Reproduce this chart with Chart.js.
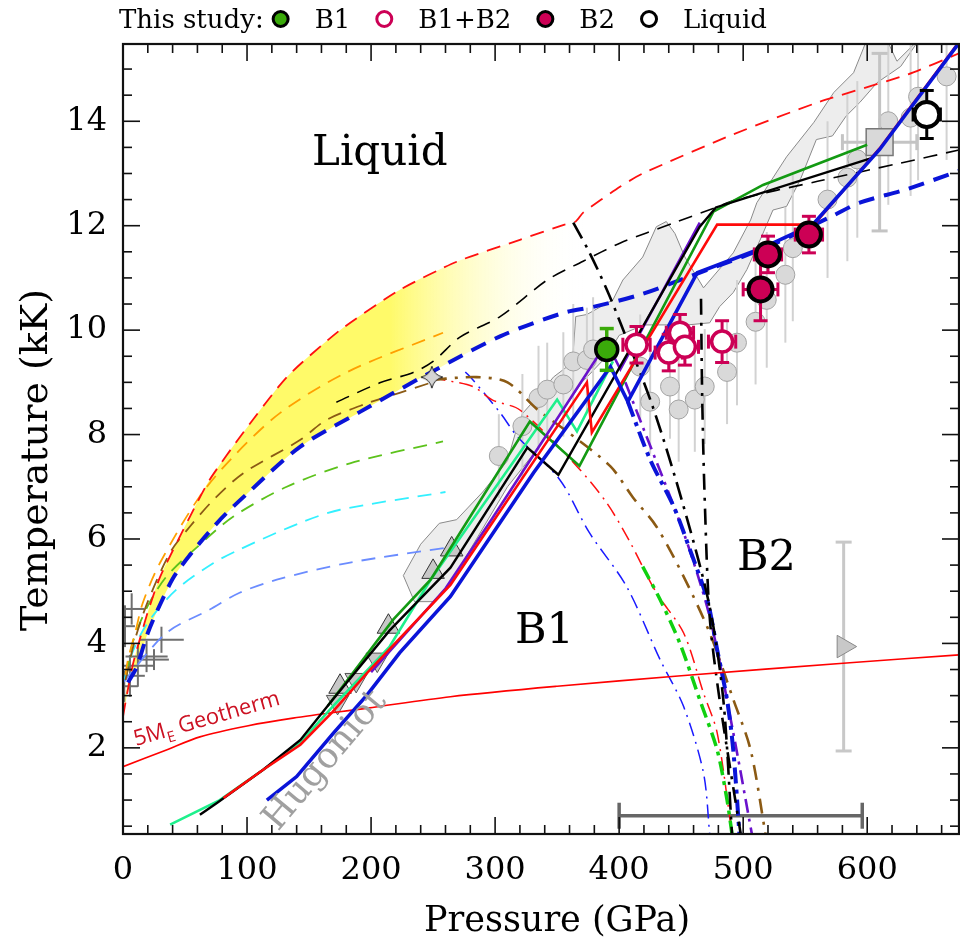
<!DOCTYPE html>
<html>
<head>
<meta charset="utf-8">
<script src="https://cdn.jsdelivr.net/npm/chart.js@4.4.1/dist/chart.umd.min.js"></script>
<style>
  html, body { margin: 0; padding: 0; background: #fff; overflow: hidden; }
  #wrap { position: relative; width: 960px; height: 947px; }
  #chart { display: block; }
</style>
</head>
<body>
<div id="wrap"><canvas id="chart"></canvas></div>
<script>
// ---- melting curves (P in GPa, T in kK) ----
const redDashP = [0, 3, 8, 12, 20, 30, 54, 70, 97, 132, 175, 223, 269, 320, 356, 365, 371, 401, 419, 492, 560, 633, 674];
const redDashT = [2.6, 3.0, 3.6, 3.95, 4.6, 5.28, 6.43, 7.14, 8.04, 9.1, 10.0, 10.77, 11.31, 11.73, 12.02, 12.08, 12.25, 12.75, 13.0, 13.75, 14.36, 14.9, 15.3];
const blueDashP = [4, 11, 20, 30, 43, 76, 102, 143, 190, 248, 304, 355, 380, 417, 457, 520, 573, 594, 632, 674];
const blueDashT = [3.25, 3.55, 4.2, 4.75, 5.35, 6.31, 6.91, 7.77, 8.42, 9.19, 9.88, 10.33, 10.45, 10.68, 11.03, 11.6, 12.2, 12.44, 12.7, 13.05];
const orangeP = [2, 4, 10, 16, 30, 62, 89, 127, 181, 258];
const orangeT = [3.4, 3.69, 4.22, 4.78, 5.55, 6.82, 7.58, 8.42, 9.2, 9.95];
const brownP = [2, 10, 20, 38, 54, 73, 97, 143, 164, 197, 223, 249];
const brownT = [3.3, 4.1, 4.8, 5.74, 6.24, 6.75, 7.26, 7.9, 8.28, 8.6, 8.8, 9.0];
const limeP = [3, 8, 20, 35, 60, 89, 132, 183, 258];
const limeT = [3.4, 4.03, 4.72, 5.28, 5.85, 6.43, 7.0, 7.45, 7.87];
const cyanP = [1, 8, 20, 43, 73, 94, 143, 175, 260];
const cyanT = [3.3, 3.85, 4.4, 5.03, 5.54, 5.8, 6.31, 6.56, 6.9];
const skyP = [0, 35, 70, 94, 124, 181, 265];
const skyT = [3.25, 4.2, 4.65, 4.97, 5.22, 5.54, 5.85];
const blackDashP = [172, 207, 234, 250, 272, 304, 342, 371, 401, 422, 446, 478, 495, 560, 627, 674];
const blackDashT = [8.62, 8.99, 9.19, 9.4, 9.87, 10.26, 10.96, 11.32, 11.67, 11.86, 12.07, 12.35, 12.5, 12.85, 13.2, 13.45];

// yellow band outline (top edge then bottom edge back)
const bandP = [0, 3, 8, 12, 20, 30, 54, 70, 97, 132, 175, 223, 269, 320, 356, 380, 380, 355, 304, 248, 190, 143, 102, 76, 43, 30, 20, 11, 4, 0];
const bandT = [2.6, 3.0, 3.6, 3.95, 4.6, 5.28, 6.43, 7.14, 8.04, 9.1, 10.0, 10.77, 11.31, 11.73, 12.02, 12.1, 10.45, 10.33, 9.88, 9.19, 8.42, 7.77, 6.91, 6.31, 5.35, 4.75, 4.2, 3.55, 3.25, 2.6];

// ---- B1-B2 boundaries ----
const brownDdP = [249, 285, 310, 334, 358, 393, 411, 430, 452, 473, 492, 506, 518];
const brownDdT = [9.05, 9.1, 9.0, 8.48, 8.06, 7.39, 6.8, 6.24, 5.28, 4.2, 2.93, 1.96, 0.35];
const redDdP = [249, 258, 282, 298, 320, 366, 390, 409, 430, 452, 468, 479, 491];
const redDdT = [9.1, 9.05, 8.92, 8.66, 8.47, 7.39, 6.69, 5.93, 4.97, 4.2, 3.05, 2.29, 0.35];
const blueDdP = [276, 282, 304, 318, 352, 376, 406, 433, 452, 468, 473];
const blueDdT = [9.2, 9.05, 8.42, 7.96, 7.14, 6.12, 5.09, 3.69, 2.79, 1.52, 0.35];
const greenDdP = [419, 433, 449, 465, 479, 487, 491];
const greenDdT = [5.47, 4.84, 4.0, 2.92, 1.96, 1.0, 0.35];
const navyDdP = [407, 425, 444, 457, 471, 479, 487, 492, 497];
const navyDdT = [8.63, 7.52, 6.62, 5.8, 4.84, 3.88, 2.92, 1.96, 0.35];
const purpleDdP = [405, 419, 452, 473, 492, 507];
const purpleDdT = [9.0, 8.15, 6.12, 4.51, 2.29, 0.35];
const blackDd1P = [363, 376, 390, 401, 427, 452, 473, 484, 491];
const blackDd1T = [12.06, 11.49, 10.78, 10.14, 8.54, 6.62, 4.7, 2.92, 0.35];
const blackDd2P = [466, 467, 469, 473, 481, 498];
const blackDd2T = [10.6, 8.67, 6.75, 4.51, 2.92, 0.35];

// ---- computed Hugoniots ----
const blueSolP = [116, 140, 170, 197, 223, 264, 331, 393, 407, 463, 516, 556, 610, 674];
const blueSolT = [1.0, 1.45, 2.29, 3.02, 3.82, 4.9, 7.27, 9.3, 8.63, 11.1, 11.58, 12.02, 13.46, 15.5];
const redSolP = [81, 113, 143, 169, 197, 264, 374, 378, 479, 557, 610, 674];
const redSolT = [1.04, 1.58, 2.06, 2.69, 3.44, 5.12, 9.0, 8.04, 12.02, 12.02, 13.48, 15.52];
const blackSolP = [62, 76, 113, 143, 169, 215, 264, 326, 351, 465, 478, 604];
const blackSolT = [0.72, 0.95, 1.58, 2.15, 2.92, 4.25, 5.45, 7.75, 7.23, 11.98, 12.35, 13.3];
const greenSolP = [165, 183, 218, 248, 328, 368, 476, 516, 600];
const greenSolT = [2.8, 3.36, 4.46, 5.22, 8.25, 7.4, 12.27, 12.78, 13.55];
const mintSolP = [38, 78, 113, 143, 169, 215, 248, 350, 366, 395];
const mintSolT = [0.53, 1.0, 1.58, 2.1, 2.79, 3.94, 5.22, 8.67, 8.06, 9.4];
const purpleSolP = [200, 260, 297, 390, 401, 465];
const purpleSolT = [3.45, 5.05, 6.37, 9.76, 9.25, 12.06];

// 5 M_E geotherm
const geoP = [0, 35, 62, 100, 137, 197, 264, 350, 450, 586, 674];
const geoT = [1.64, 1.96, 2.21, 2.42, 2.57, 2.76, 2.98, 3.18, 3.38, 3.63, 3.78];

// ---- previous experiments ----
const hugBandP = [226, 240, 255, 269, 290, 310, 316, 322, 335, 347, 358, 363, 365, 374, 395, 403, 419, 430, 438, 445, 453, 468, 492, 506, 511, 535, 557, 573, 589, 597, 600, 615, 624, 643, 627, 608, 594, 583, 572, 559, 546, 535, 524, 515, 503, 492, 481, 473, 455, 420, 400, 390, 370, 350, 330, 310, 295, 280, 265, 250, 235, 226];
const hugBandT = [5.3, 5.9, 6.3, 6.37, 6.9, 7.5, 8.0, 8.4, 8.75, 9.1, 9.3, 9.6, 10.26, 10.3, 10.58, 10.96, 11.4, 11.98, 12.08, 11.85, 11.4, 10.81, 11.48, 12.11, 12.44, 13.32, 13.98, 14.55, 14.93, 15.4, 15.6, 15.6, 15.15, 15.6, 15.05, 14.74, 14.36, 14.1, 13.72, 13.65, 12.88, 12.37, 12.3, 11.8, 11.16, 10.72, 10.45, 10.14, 10.1, 10.1, 9.9, 9.5, 9.0, 8.3, 7.6, 7.0, 6.4, 5.8, 5.2, 4.8, 4.8, 5.3];
const hugP = [303, 322, 335, 342, 355, 363, 374, 379, 417, 425, 441, 448, 461, 469, 487, 495, 510, 519, 534, 540, 568, 584, 592, 617, 635, 641, 664];
const hugT = [7.59, 8.16, 8.7, 8.86, 8.96, 9.4, 9.43, 9.63, 9.3, 8.63, 8.92, 8.48, 8.67, 8.92, 9.2, 9.76, 10.16, 10.58, 11.06, 11.57, 12.5, 12.92, 13.27, 14.0, 14.07, 14.47, 14.86];
const hugErrT = [0.8, 1.0, 1.0, 0.9, 1.0, 1.1, 1.0, 1.0, 1.0, 1.0, 1.0, 1.0, 1.0, 1.1, 1.0, 1.2, 1.2, 1.3, 1.3, 1.4, 1.5, 1.6, 1.5, 1.6, 1.5, 1.6, 1.6];
const lowP = [7, 1.6, 31, 19, 25, 12, 5.6, 1];
const lowT = [4.66, 4.33, 4.07, 3.75, 3.69, 3.57, 3.38, 3.18];
const lowErrP = [10, 8, 18, 17, 12, 13, 12, 11];
const lowErrT = [0.3, 0.4, 0.25, 0.3, 0.2, 0.4, 0.4, 0.3];
const upTriP = [175, 214, 250, 265];
const upTriT = [3.17, 4.32, 5.37, 5.8];
const downTriP = [173, 188, 205];
const downTriT = [2.88, 3.3, 3.69];
const starP = [249], starT = [9.1];
const squareP = [610], squareT = [13.6], squareErrP = [30], squareErrT = [1.7];
const rightTriP = [581], rightTriT = [3.94], rightTriErrT = [2.0];
const barP = [498], barT = [0.7], barErrP = [98];

// ---- this study ----
const b1P = [390], b1T = [9.63], b1ErrT = [0.4];
const mixP = [414, 440, 449, 453, 483];
const mixT = [9.72, 9.57, 9.95, 9.68, 9.78];
const mixErrP = [11, 11, 11, 11, 11];
const mixErrT = [0.35, 0.35, 0.35, 0.35, 0.4];
const b2P = [514, 520, 553], b2T = [10.78, 11.45, 11.83];
const b2ErrP = [14, 11, 11], b2ErrT = [0.6, 0.35, 0.35];
const liqP = [648], liqT = [14.13], liqErrP = [11], liqErrT = [0.46];
const legendLabels = ['B1', 'B1+B2', 'B2', 'Liquid'];

const SERIF = "'DejaVu Serif', serif";
const CRIMSON = '#cc0055';

const pts = (P, T) => P.map((p, i) => ({ x: p, y: T[i] }));

function curve(P, T, color, width, dash, order, tension) {
    return {
        data: pts(P, T), showLine: true, borderColor: color, borderWidth: width,
        borderDash: dash || [], pointRadius: 0, tension: tension ?? 0.3, fill: false, order
    };
}

function markers(P, T, extra) {
    return Object.assign({ data: pts(P, T), showLine: false }, extra);
}

// 4-pointed star used for one literature point
const starImg = document.createElement('canvas');
starImg.width = 24; starImg.height = 24;
(() => {
    const c = starImg.getContext('2d');
    c.beginPath();
    c.moveTo(12, 1);
    c.quadraticCurveTo(14, 10, 23, 12);
    c.quadraticCurveTo(14, 14, 12, 23);
    c.quadraticCurveTo(10, 14, 1, 12);
    c.quadraticCurveTo(10, 10, 12, 1);
    c.closePath();
    c.fillStyle = '#d4d4d4'; c.fill();
    c.strokeStyle = '#222'; c.lineWidth = 1; c.stroke();
})();

// error bars, drawn under each dataset's markers
const errorBars = {
    id: 'errorBars',
    beforeDatasetDraw(chart, args) {
        const ds = chart.data.datasets[args.index];
        if (!ds.errX && !ds.errY) return;
        const { ctx, chartArea: a, scales: { x, y } } = chart;
        ctx.save();
        ctx.beginPath(); ctx.rect(a.left, a.top, a.width, a.height); ctx.clip();
        ctx.strokeStyle = ds.errColor; ctx.lineWidth = ds.errWidth || 2;
        const cap = ds.errCap || 0;
        const seg = (x1, y1, x2, y2) => { ctx.beginPath(); ctx.moveTo(x1, y1); ctx.lineTo(x2, y2); ctx.stroke(); };
        ds.data.forEach((p, i) => {
            const px = x.getPixelForValue(p.x), py = y.getPixelForValue(p.y);
            if (ds.errY && ds.errY[i]) {
                const y1 = y.getPixelForValue(p.y - ds.errY[i]), y2 = y.getPixelForValue(p.y + ds.errY[i]);
                seg(px, y1, px, y2);
                if (cap) { seg(px - cap, y1, px + cap, y1); seg(px - cap, y2, px + cap, y2); }
            }
            if (ds.errX && ds.errX[i]) {
                const x1 = x.getPixelForValue(p.x - ds.errX[i]), x2 = x.getPixelForValue(p.x + ds.errX[i]);
                seg(x1, py, x2, py);
                if (cap) { seg(x1, py - cap, x1, py + cap); seg(x2, py - cap, x2, py + cap); }
            }
        });
        ctx.restore();
    }
};

// inward ticks on all four sides + frame, axis titles, legend
const frameTicks = {
    id: 'frameTicks',
    afterDraw(chart) {
        const { ctx, chartArea: a, scales: { x, y } } = chart;
        ctx.save();
        ctx.strokeStyle = '#111'; ctx.lineWidth = 1.6;
        const seg = (x1, y1, x2, y2) => { ctx.beginPath(); ctx.moveTo(x1, y1); ctx.lineTo(x2, y2); ctx.stroke(); };
        for (let k = 0; k * 20 <= x.max; k++) {
            const px = x.getPixelForValue(k * 20), len = k % 5 === 0 ? 17 : 9;
            seg(px, a.bottom, px, a.bottom - len); seg(px, a.top, px, a.top + len);
        }
        for (let k = 1; k * 0.5 <= y.max; k++) {
            const py = y.getPixelForValue(k * 0.5), len = k % 4 === 0 ? 17 : 9;
            seg(a.left, py, a.left + len, py); seg(a.right, py, a.right - len, py);
        }
        ctx.lineWidth = 2.2;
        ctx.strokeRect(a.left, a.top, a.width, a.height);

        // axis titles
        ctx.fillStyle = '#000';
        ctx.textAlign = 'center'; ctx.textBaseline = 'alphabetic';
        ctx.font = '35px ' + SERIF;
        ctx.fillText('Pressure (GPa)', 557, 931);
        ctx.translate(47, 460); ctx.rotate(-Math.PI / 2);
        ctx.font = '38px ' + SERIF;
        ctx.fillText('Temperature (kK)', 0, 0);
        ctx.restore();

        // legend of this study
        ctx.save();
        ctx.font = '26px ' + SERIF; ctx.fillStyle = '#000'; ctx.textBaseline = 'alphabetic';
        ctx.fillText('This study:', 119, 28);
        const styles = [['#3aaa0a', '#000'], ['#fff', CRIMSON], [CRIMSON, '#000'], ['#fff', '#000']];
        let xp = 119 + ctx.measureText('This study:').width + 17;
        legendLabels.forEach((lab, i) => {
            ctx.beginPath(); ctx.arc(xp, 19, 7.5, 0, Math.PI * 2);
            ctx.fillStyle = styles[i][0]; ctx.fill();
            ctx.lineWidth = 3; ctx.strokeStyle = styles[i][1]; ctx.stroke();
            ctx.fillStyle = '#000';
            ctx.fillText(lab, xp + 34, 28);
            xp += 34 + ctx.measureText(lab).width + 34;
        });
        ctx.restore();
    }
};

// phase labels and curve labels
const phaseLabels = {
    id: 'phaseLabels',
    afterDatasetsDraw(chart) {
        const { ctx } = chart;
        ctx.save();
        ctx.fillStyle = '#000'; ctx.textBaseline = 'alphabetic'; ctx.textAlign = 'left';
        ctx.font = '42px ' + SERIF;
        ctx.fillText('Liquid', 312, 165);
        ctx.font = '43px ' + SERIF;
        ctx.fillText('B1', 515, 643);
        ctx.fillText('B2', 737, 570);

        ctx.save();
        ctx.translate(278, 832); ctx.rotate(-50 * Math.PI / 180);
        ctx.font = '36px ' + SERIF; ctx.fillStyle = '#a0a0a0';
        ctx.fillText('Hugoniot', 0, 0);
        ctx.restore();

        ctx.save();
        ctx.translate(136, 746); ctx.rotate(-16 * Math.PI / 180);
        ctx.fillStyle = '#cc1122';
        ctx.font = "22px 'Open Sans', sans-serif";
        ctx.fillText('5M', 0, 0);
        let w = ctx.measureText('5M').width;
        ctx.font = "15px 'Open Sans', sans-serif";
        ctx.fillText('E', w, 6);
        w += ctx.measureText('E').width;
        ctx.font = "22px 'Open Sans', sans-serif";
        ctx.fillText(' Geotherm', w, 0);
        ctx.restore();
        ctx.restore();
    }
};

const yellowFill = (c) => {
    const ch = c.chart;
    if (!ch.chartArea) return 'rgba(255,250,105,1)';
    const xs = ch.scales.x;
    const g = ch.ctx.createLinearGradient(xs.getPixelForValue(215), 0, xs.getPixelForValue(372), 0);
    g.addColorStop(0, 'rgba(255,250,105,1)');
    g.addColorStop(1, 'rgba(255,255,255,0)');
    return g;
};

const datasets = [
    // bottom layers
    { data: pts(hugBandP, hugBandT), showLine: true, fill: 'shape', backgroundColor: '#ededed',
      borderColor: '#8a8a8a', borderWidth: 1, pointRadius: 0, tension: 0, order: 100 },
    { data: pts(bandP, bandT), showLine: true, fill: 'shape', backgroundColor: yellowFill,
      borderColor: 'transparent', borderWidth: 0, pointRadius: 0, tension: 0.25, order: 95 },
    markers(lowP, lowT, { pointRadius: 0, errX: lowErrP, errY: lowErrT, errColor: '#6e6e6e', errWidth: 2, order: 90 }),
    markers(hugP, hugT, { pointRadius: 9.5, backgroundColor: '#d9d9d9', borderColor: '#a3a3a3', borderWidth: 1,
      errY: hugErrT, errColor: '#d2d2d2', errWidth: 2, order: 85 }),
    markers(upTriP, upTriT, { pointStyle: 'triangle', pointRadius: 13, backgroundColor: '#c8c8c8', borderColor: '#333', borderWidth: 1, order: 80 }),
    markers(downTriP, downTriT, { pointStyle: 'triangle', rotation: 180, pointRadius: 13, backgroundColor: '#c8c8c8', borderColor: '#555', borderWidth: 1, order: 80 }),
    markers(squareP, squareT, { pointStyle: 'rect', pointRadius: 19, backgroundColor: '#d9d9d9', borderColor: '#777', borderWidth: 1.5,
      errX: squareErrP, errY: squareErrT, errColor: '#c4c4c4', errWidth: 3, errCap: 8, order: 80 }),
    markers(rightTriP, rightTriT, { pointStyle: 'triangle', rotation: 90, pointRadius: 13, backgroundColor: '#c8c8c8', borderColor: '#888', borderWidth: 1,
      errY: rightTriErrT, errColor: '#c8c8c8', errWidth: 3, errCap: 8, order: 80 }),
    markers(barP, barT, { pointRadius: 0, errX: barErrP, errColor: '#666', errWidth: 3.5, errCap: 13, order: 80 }),

    // melting curves
    curve(skyP, skyT, '#6b8cff', 1.8, [14, 9], 60),
    curve(cyanP, cyanT, '#33f0ff', 1.8, [14, 9], 60),
    curve(limeP, limeT, '#5cc21b', 1.8, [14, 9], 60),
    curve(orangeP, orangeT, '#ffa000', 1.8, [14, 9], 58),
    curve(brownP, brownT, '#8b5a14', 1.8, [14, 9], 58),
    curve(blackDashP, blackDashT, '#000', 1.6, [14, 9], 57),
    curve(redDashP, redDashT, '#ff1010', 1.8, [14, 9], 56, 0.2),
    curve(blueDashP, blueDashT, '#0a14d8', 4, [16, 10], 55),

    // B1-B2 boundaries
    curve(redDdP, redDdT, '#ff1010', 1.5, [14, 6, 2, 6], 52),
    curve(blueDdP, blueDdT, '#1a1aff', 1.5, [14, 6, 2, 6], 52),
    curve(brownDdP, brownDdT, '#8b5a14', 2.6, [15, 8, 3, 8], 51),
    curve(greenDdP, greenDdT, '#10d010', 3.5, [14, 6, 4, 6], 50),
    curve(navyDdP, navyDdT, '#0a14d8', 4, [16, 6, 4, 6], 50),
    curve(purpleDdP, purpleDdT, '#6a12cc', 2.6, [14, 6, 3, 6], 50),
    curve(blackDd1P, blackDd1T, '#000', 2.6, [18, 7, 3, 7], 49),
    curve(blackDd2P, blackDd2T, '#000', 2.6, [16, 8, 3, 8], 49),

    // geotherm
    curve(geoP, geoT, '#ff0000', 1.6, [], 48),

    // Hugoniots
    curve(mintSolP, mintSolT, '#1ef08c', 2.6, [], 45, 0),
    curve(greenSolP, greenSolT, '#139a13', 2.6, [], 44, 0),
    curve(purpleSolP, purpleSolT, '#6a12cc', 2.6, [], 43, 0),
    curve(blackSolP, blackSolT, '#000', 2.4, [], 42, 0),
    curve(redSolP, redSolT, '#ff0a0a', 2.6, [], 41, 0),
    curve(blueSolP, blueSolT, '#0a14d8', 3.6, [], 40, 0),

    markers(starP, starT, { pointStyle: starImg, order: 30 }),

    // this study
    markers(b1P, b1T, { pointRadius: 11, backgroundColor: '#3aaa0a', borderColor: '#000', borderWidth: 3.5,
      errY: b1ErrT, errColor: '#3aaa0a', errWidth: 3.5, errCap: 7, order: 5 }),
    markers(mixP, mixT, { pointRadius: 10.5, backgroundColor: '#fff', borderColor: CRIMSON, borderWidth: 3.5,
      errX: mixErrP, errY: mixErrT, errColor: CRIMSON, errWidth: 3, errCap: 7, order: 4 }),
    markers(b2P, b2T, { pointRadius: 12, backgroundColor: CRIMSON, borderColor: '#000', borderWidth: 4,
      errX: b2ErrP, errY: b2ErrT, errColor: CRIMSON, errWidth: 3, errCap: 7, order: 3 }),
    markers(liqP, liqT, { pointRadius: 12.5, backgroundColor: '#fff', borderColor: '#000', borderWidth: 4,
      errX: liqErrP, errY: liqErrT, errColor: '#000', errWidth: 3, errCap: 7, order: 2 })
];

new Chart(document.getElementById('chart'), {
    type: 'scatter',
    data: { datasets },
    options: {
        responsive: true,
        maintainAspectRatio: false,
        animation: false,
        events: [],
        layout: { autoPadding: false, padding: { top: 44, right: 1, left: 0, bottom: 0 } },
        plugins: { legend: { display: false }, tooltip: { enabled: false } },
        scales: {
            x: {
                type: 'linear', min: 0, max: 674,
                afterFit: (s) => { s.height = 113; },
                grid: { display: false }, border: { display: false },
                ticks: { stepSize: 100, includeBounds: false, padding: 9, maxRotation: 0, color: '#000',
                         font: { family: SERIF, size: 32 } }
            },
            y: {
                type: 'linear', min: 0.35, max: 15.48,
                afterFit: (s) => { s.width = 123; },
                grid: { display: false }, border: { display: false },
                ticks: { stepSize: 2, includeBounds: false, padding: 8, color: '#000',
                         font: { family: SERIF, size: 32 } }
            }
        }
    },
    plugins: [errorBars, phaseLabels, frameTicks]
});
</script>
</body>
</html>
